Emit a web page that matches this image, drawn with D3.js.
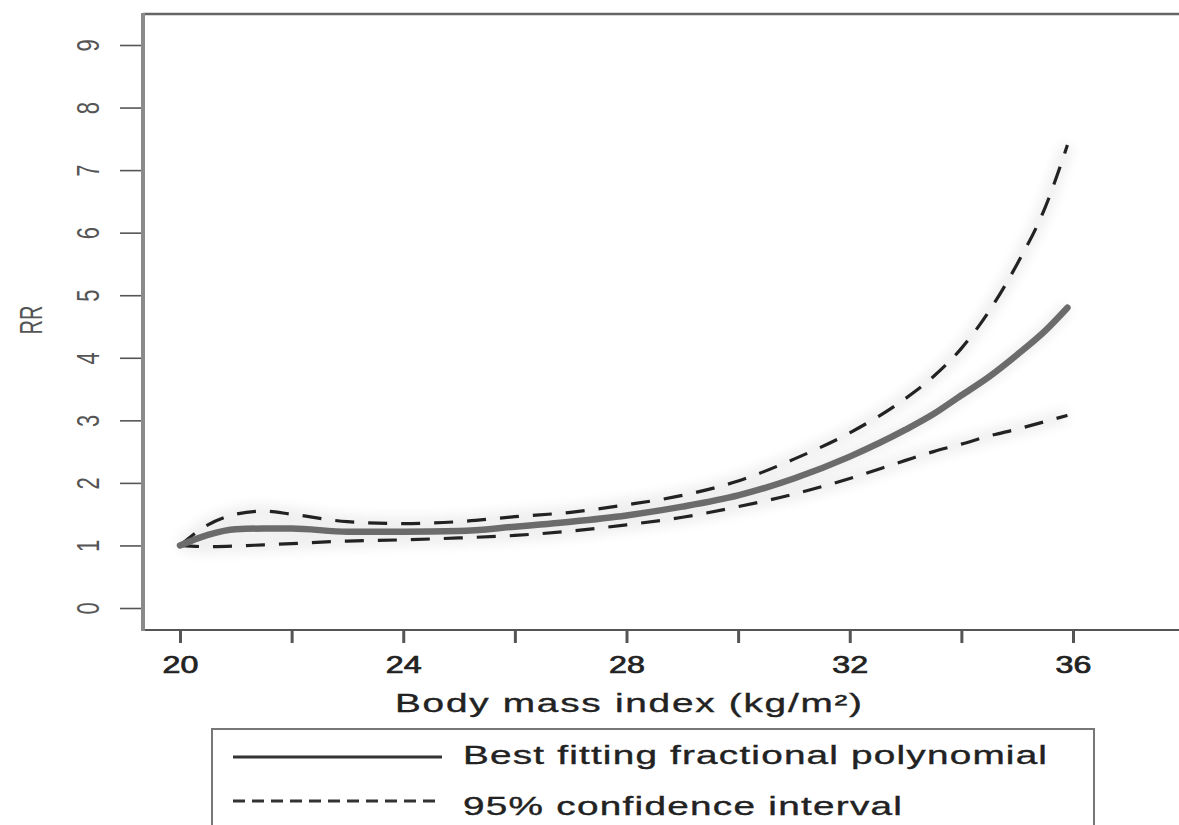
<!DOCTYPE html>
<html>
<head>
<meta charset="utf-8">
<script src="https://cdn.jsdelivr.net/npm/d3@7"></script>
<style>
  html, body { margin: 0; padding: 0; background: #fff; }
  svg { display: block; font-family: "Liberation Sans", Arial, sans-serif; }
</style>
</head>
<body>
<div id="chart-area"></div>
<script>
// values
const bmi     = [20, 20.5, 21, 21.5, 22, 23, 24, 25, 26, 27, 28, 29, 30, 31, 32, 33, 33.5, 34, 34.5, 35, 35.5, 35.9];
const rrFit   = [1.00, 1.17, 1.26, 1.27, 1.27, 1.22, 1.22, 1.23, 1.30, 1.38, 1.48, 1.62, 1.80, 2.07, 2.42, 2.85, 3.10, 3.40, 3.70, 4.05, 4.43, 4.80];
const ciUpper = [1.00, 1.33, 1.50, 1.55, 1.50, 1.38, 1.35, 1.38, 1.46, 1.53, 1.65, 1.80, 2.03, 2.38, 2.80, 3.35, 3.70, 4.15, 4.75, 5.50, 6.40, 7.40];
const ciLower = [1.00, 0.98, 0.99, 1.01, 1.03, 1.07, 1.09, 1.12, 1.16, 1.23, 1.33, 1.45, 1.62, 1.82, 2.07, 2.36, 2.50, 2.62, 2.75, 2.86, 2.98, 3.08];

const xTicks = [20, 22, 24, 26, 28, 30, 32, 34, 36, 38];
const xTickLabels = ["20", "", "24", "", "28", "", "32", "", "36", ""];
const yTicks = [0, 1, 2, 3, 4, 5, 6, 7, 8, 9];
const yTickLabels = ["0", "1", "2", "3", "4", "5", "6", "7", "8", "9"];
const xTitle = "Body mass index (kg/m\u00B2)";
const yTitle = "RR";
const legendLabels = ["Best fitting fractional polynomial", "95% confidence interval"];

const width = 1179, height = 825;
const box = { left: 143, top: 14, bottom: 630, right: 1240 };
const sx = 1.55; // source picture is stretched sideways, text too

const svg = d3.select("#chart-area")
    .append("svg")
    .attr("width", width)
    .attr("height", height);

const x = d3.scaleLinear().domain([20, 36]).range([180, 1073]);
const y = d3.scaleLinear().domain([0, 9]).range([608, 45]);

// soft halo around the curves
const defs = svg.append("defs");
defs.append("filter")
    .attr("id", "soft")
    .attr("x", "-20%").attr("y", "-20%")
    .attr("width", "140%").attr("height", "140%")
    .append("feGaussianBlur")
    .attr("stdDeviation", 6);

//plot frame
svg.append("line")
    .attr("x1", box.left).attr("x2", box.right)
    .attr("y1", box.top).attr("y2", box.top)
    .attr("stroke", "#666").attr("stroke-width", 2.5);
svg.append("line")
    .attr("x1", box.left).attr("x2", box.right)
    .attr("y1", box.bottom).attr("y2", box.bottom)
    .attr("stroke", "#555").attr("stroke-width", 2);
svg.append("line")
    .attr("x1", box.left).attr("x2", box.left)
    .attr("y1", box.top - 1).attr("y2", box.bottom + 1)
    .attr("stroke", "#8a8a8a").attr("stroke-width", 4);

//x axis
const xAxis = svg.append("g")
    .attr("transform", `translate(0, ${box.bottom})`)
    .call(d3.axisBottom(x).tickValues(xTicks).tickSize(13).tickFormat((d, i) => xTickLabels[i]));
xAxis.attr("font-size", null).attr("font-family", null);
xAxis.select(".domain").remove();
xAxis.selectAll(".tick line")
    .attr("y1", 1)
    .attr("stroke", "#555")
    .attr("stroke-width", 3);
xAxis.selectAll(".tick text")
    .attr("y", null).attr("dy", null)
    .attr("transform", `translate(0, 43) scale(1.4, 1)`)
    .attr("font-size", 23)
    .attr("fill", "#222")
    .attr("stroke", "#222")
    .attr("stroke-width", 0.7);

//y axis, labels turned like R does
const yAxis = svg.append("g")
    .attr("transform", `translate(${box.left - 2}, 0)`)
    .call(d3.axisLeft(y).tickValues(yTicks).tickSize(21).tickFormat((d, i) => yTickLabels[i]));
yAxis.attr("font-size", null).attr("font-family", null);
yAxis.select(".domain").remove();
yAxis.selectAll(".tick line")
    .attr("stroke", "#555")
    .attr("stroke-width", 1.6);
yAxis.selectAll(".tick text")
    .attr("x", 0).attr("dy", "0.36em")
    .attr("text-anchor", "middle")
    .attr("transform", `translate(-53, 0) scale(1.45, 1) rotate(-90)`)
    .attr("font-size", 22)
    .attr("fill", "#555");

svg.append("text")
    .attr("transform", `translate(30, 320) scale(1.6, 1) rotate(-90)`)
    .attr("text-anchor", "middle")
    .attr("dy", "0.36em")
    .attr("font-size", 20)
    .attr("fill", "#555")
    .text(yTitle);

svg.append("text")
    .attr("transform", `translate(395, 712) scale(${sx}, 1)`)
    .attr("font-size", 25)
    .attr("fill", "#222")
    .attr("stroke", "#222")
    .attr("stroke-width", 0.35)
    .attr("textLength", 467 / sx)
    .attr("lengthAdjust", "spacing")
    .text(xTitle);

//curves
const line = d3.line()
    .x((d, i) => x(bmi[i]))
    .y(d => y(d))
    .curve(d3.curveMonotoneX);

const halo = svg.append("g").attr("filter", "url(#soft)").attr("opacity", 0.06);
[rrFit, ciUpper, ciLower].forEach(s => {
    halo.append("path")
        .attr("d", line(s))
        .attr("fill", "none")
        .attr("stroke", "#000")
        .attr("stroke-width", 14);
});

[ciUpper, ciLower].forEach(s => {
    svg.append("path")
        .attr("d", line(s))
        .attr("fill", "none")
        .attr("stroke", "#222")
        .attr("stroke-width", 3.2)
        .attr("stroke-dasharray", "19,14");
});

svg.append("path")
    .attr("d", line(rrFit))
    .attr("fill", "none")
    .attr("stroke", "#6b6b6b")
    .attr("stroke-width", 6.5)
    .attr("stroke-linecap", "round");

//legend
const legend = svg.append("g");
legend.append("rect")
    .attr("x", 212).attr("y", 729)
    .attr("width", 882).attr("height", 200)
    .attr("fill", "#fff")
    .attr("stroke", "#777")
    .attr("stroke-width", 2);

legend.append("line")
    .attr("x1", 233).attr("x2", 442)
    .attr("y1", 757).attr("y2", 757)
    .attr("stroke", "#333").attr("stroke-width", 3);
legend.append("line")
    .attr("x1", 233).attr("x2", 442)
    .attr("y1", 801).attr("y2", 801)
    .attr("stroke", "#333").attr("stroke-width", 3)
    .attr("stroke-dasharray", "12,7");

[[legendLabels[0], 764, 584], [legendLabels[1], 815, 439]].forEach(([label, baseY, len]) => {
    legend.append("text")
        .attr("transform", `translate(463, ${baseY}) scale(${sx}, 1)`)
        .attr("font-size", 25)
        .attr("fill", "#222")
        .attr("stroke", "#222")
        .attr("stroke-width", 0.35)
        .attr("textLength", len / sx)
        .attr("lengthAdjust", "spacing")
        .text(label);
});
</script>
</body>
</html>
